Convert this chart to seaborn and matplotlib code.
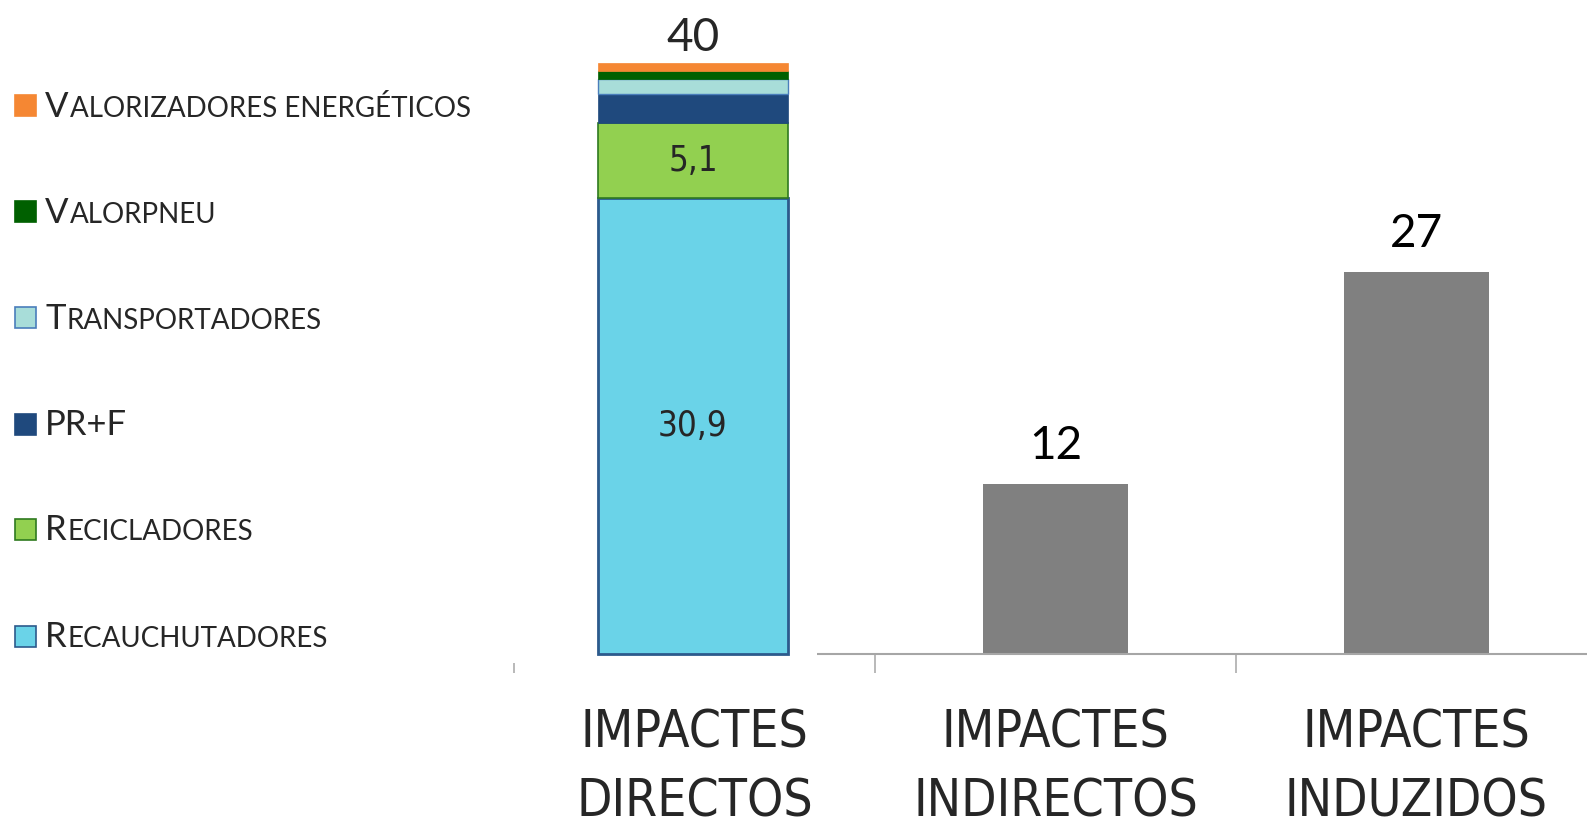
import numpy as np
import pandas as pd
import matplotlib
matplotlib.use("Agg")
import matplotlib.pyplot as plt
from matplotlib.patches import Rectangle
import seaborn as sns

# data
categories = ["IMPACTES\nDIRECTOS", "IMPACTES\nINDIRECTOS", "IMPACTES\nINDUZIDOS"]
gray_cats = ["IMPACTES\nINDIRECTOS", "IMPACTES\nINDUZIDOS"]
gray_vals = [12, 27]

# stacked "directos" bar, bottom to top
stack_names = ["Recauchutadores", "Recicladores", "PR+F", "Transportadores",
               "Valorpneu", "Valorizadores energéticos"]
stack_vals = [30.9, 5.1, 2.0, 1.0, 0.55, 0.55]
stack_labels = ["30,9", "5,1", "", "", "", ""]
total_label = "40"

stack_colors = ["#6AD3E8", "#92D050", "#1F497D", "#A8DDD9", "#006000", "#F58733"]
stack_edges = ["#2C5A8C", "#2F7A1F", "#1F497D", "#4A7EBB", "#006000", "#F58733"]
stack_lw = [2.0, 1.2, 0.5, 1.0, 0.5, 0.5]

W, H = 1587, 822
sns.set_style("white")
plt.rcParams["font.family"] = ["Lato", "DejaVu Sans"]

fig = plt.figure(figsize=(W / 100, H / 100), dpi=100)

def fx(x):
    return x / W

def fy(y):
    return 1 - y / H

# main axis (gray bars + category labels)
base_y = 654
cat_px = 361
ax = fig.add_axes([fx(514), fy(base_y), fx(W - 514), base_y / H])
df = pd.DataFrame({"cat": gray_cats, "val": gray_vals})
sns.barplot(data=df, x="cat", y="val", order=categories, color="#808080",
            saturation=1, width=0.4, errorbar=None, ax=ax, edgecolor="none")
ax.set_xlim(-0.5, -0.5 + (W - 514) / cat_px)
ax.set_ylim(0, base_y / 14.15)
for s in ["top", "right", "left"]:
    ax.spines[s].set_visible(False)
ax.spines["bottom"].set_color("#a6a6a6")
ax.spines["bottom"].set_linewidth(1.5)
ax.set_yticks([])
ax.set_xticks([-0.5, 0.5, 1.5], labels=["", "", ""])
ax.set_xticks([0, 1, 2], labels=categories, minor=True)
ax.tick_params(axis="x", which="major", length=14, width=1.1, color="#a6a6a6",
               direction="out", bottom=True)
ax.tick_params(axis="x", which="minor", length=0, pad=39.5, bottom=True)
for lab in ax.get_xticklabels(minor=True):
    lab.set_fontsize(37)
    lab.set_family(["DejaVu Sans"])
    lab.set_fontstretch("condensed")
    lab.set_linespacing(1.47)
ax.set_xlabel("")
ax.set_ylabel("")
for i, v in enumerate(gray_vals):
    ax.annotate(str(v), xy=(i + 1, v), xytext=(0, 18), textcoords="offset points",
                ha="center", va="baseline", fontsize=33, color="black")

# overlay axis for the stacked bar (white background hides the axis line)
ov_bottom = 663
ax2 = fig.add_axes([0, fy(ov_bottom), fx(817), ov_bottom / H])
ax2.set_zorder(ax.get_zorder() + 1)
ax2.patch.set_facecolor("white")
scale = 14.75
bottom = 0.0
for name, v, c, ec, lw, lab in zip(stack_names, stack_vals, stack_colors,
                                   stack_edges, stack_lw, stack_labels):
    sns.barplot(x=[categories[0]], y=[v], bottom=bottom, color=c, saturation=1,
                width=190 / cat_px, errorbar=None, ax=ax2, edgecolor=ec,
                linewidth=lw)
    if lab:
        ax2.text(0, bottom + v / 2, lab, ha="center", va="center", fontsize=25,
                 family=["DejaVu Sans"], fontstretch="condensed")
    bottom += v
ax2.annotate(total_label, xy=(0, bottom), xytext=(0, 8), textcoords="offset points",
             ha="center", va="baseline", fontsize=33)
ax2.set_xlim(-693 / cat_px, (817 - 693) / cat_px)
lo = -(ov_bottom - base_y) / scale
ax2.set_ylim(lo, lo + ov_bottom / scale)
for s in ax2.spines.values():
    s.set_visible(False)
ax2.set_xticks([])
ax2.set_yticks([])
ax2.set_xlabel("")
ax2.set_ylabel("")

# legend with small caps labels, top entry = top of stack
renderer = fig.canvas.get_renderer()

def advance(s, size):
    # ink width of s + "|" minus ink width of "|" ~ advance width of s
    t1 = fig.text(0, 0, s + "|", fontsize=size)
    t2 = fig.text(0, 0, "|", fontsize=size)
    w = t1.get_window_extent(renderer).width - t2.get_window_extent(renderer).width
    t1.remove()
    t2.remove()
    return w

leg_centers = [636, 529.5, 424, 317.5, 212, 106]
big, small = 25, 20
for name, c, ec, yc in zip(stack_names, stack_colors, stack_edges, leg_centers):
    sq = Rectangle((fx(15), fy(yc + 10.5)), 21 / W, 21 / H, transform=fig.transFigure,
                   facecolor=c, edgecolor=ec, linewidth=1.2, zorder=5)
    fig.add_artist(sq)
    runs = []
    for ch in name:
        if ch == " " and runs:
            runs[-1][1] += ch
            continue
        is_big = not ch.islower()
        if runs and runs[-1][0] == is_big:
            runs[-1][1] += ch
        else:
            runs.append([is_big, ch])
    x = 45
    for is_big, s in runs:
        size = big if is_big else small
        fig.text(fx(x), fy(yc + 11), s.upper(), fontsize=size,
                 ha="left", va="baseline", zorder=6)
        x += advance(s.upper(), size) + 1

fig.savefig("out.png", dpi=100)
